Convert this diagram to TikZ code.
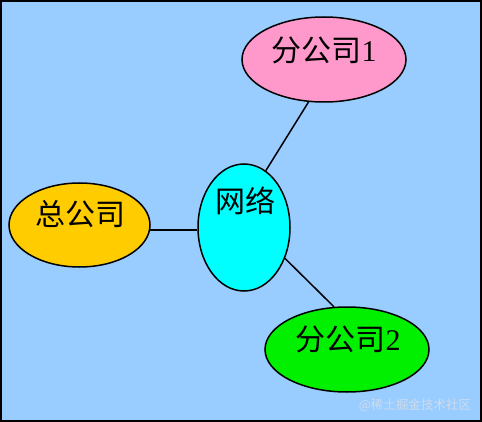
\documentclass[tikz,border=0pt]{standalone}
\usepackage{fontspec}
\setmainfont{Liberation Serif}
\newfontfamily\cjk{Noto Sans CJK SC}
\usetikzlibrary{shapes.geometric}
\definecolor{bgblue}{RGB}{153,204,255}
\definecolor{pinkfill}{RGB}{255,153,204}
\definecolor{orangefill}{RGB}{255,204,0}
\definecolor{cyanfill}{RGB}{0,255,255}
\definecolor{greenfill}{RGB}{0,240,0}
\definecolor{wmark}{RGB}{205,220,238}
\tikzset{
  blob/.style={ellipse, draw=black, line width=1.5pt, inner sep=0pt},
  lbl/.style={inner sep=0pt, font=\fontsize{30}{36}\selectfont},
  link/.style={draw=black, line width=1.5pt}
}
\begin{document}
\begin{tikzpicture}[x=1pt,y=-1pt]
\useasboundingbox (0,0) rectangle (482,422);
\fill[bgblue] (0,0) rectangle (482,422);
\draw[black, line width=2pt] (1,1) rectangle (481,421);
% ellipses
\node[blob, fill=pinkfill, minimum width=164pt, minimum height=85pt] (b1) at (324,59.5) {};
\node[blob, fill=orangefill, minimum width=141pt, minimum height=84pt] (hq) at (79.5,225) {};
\node[blob, fill=cyanfill, minimum width=92pt, minimum height=127pt] (net) at (244,227.5) {};
\node[blob, fill=greenfill, minimum width=164pt, minimum height=85pt] (b2) at (347,349.5) {};
% labels
\node[lbl] (tb1) at (324,50) {{\cjk 分公司}1};
\node[lbl] (thq) at (80,214) {\cjk 总公司};
\node[lbl] (tnet) at (245,201) {\cjk 网络};
\node[lbl] (tb2) at (348,339) {{\cjk 分公司}2};
% connectors
\draw[link] (hq.-4) -- (hq.-4 -| net.west);
\draw[link] (net.69) -- (b1.250);
\draw[link] (net.-37) -- (b2.107);
% watermark
\node[inner sep=0pt, text=wmark, font=\cjk\fontsize{12.5}{14}\selectfont, anchor=east] (wm) at (471,405) {@稀土掘金技术社区};
\end{tikzpicture}
\end{document}
